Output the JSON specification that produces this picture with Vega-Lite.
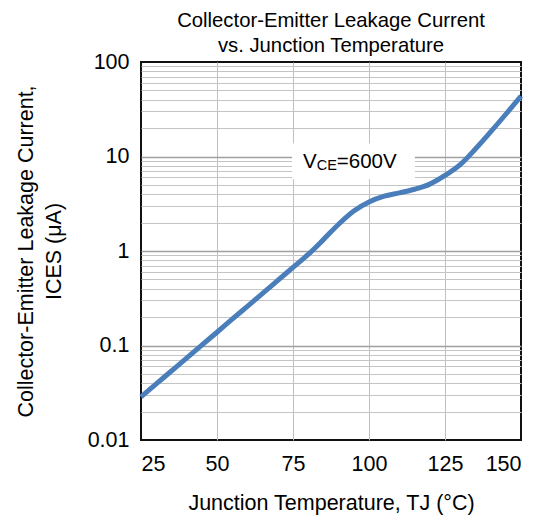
{
  "$schema": "https://vega.github.io/schema/vega-lite/v6.json",
  "width": 380,
  "height": 378,
  "autosize": {"type": "none"},
  "padding": {"left": 141, "top": 62, "right": 27, "bottom": 77},
  "background": "white",
  "config": {
    "font": "Liberation Sans",
    "view": {"stroke": "#111111", "strokeWidth": 2},
    "axis": {"labelFont": "Liberation Sans", "titleFont": "Liberation Sans", "labelColor": "black", "titleColor": "black", "labelFontSize": 21.5, "titleFontSize": 21.5, "titleFontWeight": "normal", "ticks": false, "domain": false}
  },
  "title": {
    "text": ["Collector-Emitter Leakage Current", "vs. Junction Temperature"],
    "fontSize": 20.3,
    "fontWeight": "normal",
    "font": "Liberation Sans",
    "color": "black",
    "lineHeight": 25,
    "anchor": "middle",
    "offset": -5
  },
  "datasets": {
    "curve": [
      {"T": 25, "I": 0.0286},
      {"T": 30, "I": 0.0392},
      {"T": 35, "I": 0.0537},
      {"T": 40, "I": 0.0736},
      {"T": 45, "I": 0.101},
      {"T": 50, "I": 0.138},
      {"T": 55, "I": 0.19},
      {"T": 60, "I": 0.26},
      {"T": 65, "I": 0.356},
      {"T": 70, "I": 0.489},
      {"T": 75, "I": 0.67},
      {"T": 80, "I": 0.92},
      {"T": 85, "I": 1.32},
      {"T": 90, "I": 1.92},
      {"T": 95, "I": 2.65},
      {"T": 100, "I": 3.3},
      {"T": 105, "I": 3.8},
      {"T": 110, "I": 4.12},
      {"T": 115, "I": 4.5},
      {"T": 120, "I": 5.1},
      {"T": 125, "I": 6.3},
      {"T": 130, "I": 8.2},
      {"T": 135, "I": 12},
      {"T": 140, "I": 18.2},
      {"T": 145, "I": 28},
      {"T": 150, "I": 43.6}
    ],
    "note": [
      {"T1": 74.7, "T2": 115.1, "I1": 5.73, "I2": 13.7, "T": 93.75, "I": 8.85}
    ]
  },
  "layer": [
    {
      "data": {"name": "curve"},
      "mark": {"type": "line", "color": "#4a7ebb", "strokeWidth": 5, "interpolate": "monotone"},
      "encoding": {
        "x": {
          "field": "T", "type": "quantitative",
          "scale": {"domain": [25, 150], "nice": false, "zero": false},
          "axis": {
            "values": [25, 50, 75, 100, 125, 150],
            "title": "Junction Temperature, TJ (°C)",
            "labelPadding": 13,
            "titlePadding": 18,
            "grid": true,
            "gridColor": "#c0c0c0",
            "gridWidth": 1,
            "gridOpacity": {"condition": {"test": "datum.value == 25 || datum.value == 150", "value": 0}, "value": 1}
          }
        },
        "y": {
          "field": "I", "type": "quantitative",
          "scale": {"type": "log", "domain": [0.01, 100], "nice": false},
          "axis": {
            "values": [0.01,0.02,0.03,0.04,0.05,0.06,0.07,0.08,0.09,0.1,0.2,0.3,0.4,0.5,0.6,0.7,0.8,0.9,1,2,3,4,5,6,7,8,9,10,20,30,40,50,60,70,80,90,100],
            "labelExpr": "(datum.value == 0.01 || datum.value == 0.1 || datum.value == 1 || datum.value == 10 || datum.value == 100) ? datum.label : ''",
            "format": "~g",
            "title": ["Collector-Emitter Leakage Current,", "ICES (μA)"],
            "labelPadding": 12,
            "titlePadding": 22,
            "titleLineHeight": 28,
            "grid": true,
            "gridColor": {"condition": {"test": "datum.value == 0.1 || datum.value == 1 || datum.value == 10", "value": "#a0a0a0"}, "value": "#c4c4c4"},
            "gridWidth": {"condition": {"test": "datum.value == 0.1 || datum.value == 1 || datum.value == 10", "value": 1.5}, "value": 1.2},
            "gridOpacity": {"condition": {"test": "datum.value == 0.01 || datum.value == 100", "value": 0}, "value": 1}
          }
        }
      }
    },
    {
      "data": {"name": "note"},
      "mark": {"type": "rect", "color": "white"},
      "encoding": {
        "x": {"field": "T1", "type": "quantitative"},
        "x2": {"field": "T2"},
        "y": {"field": "I1", "type": "quantitative"},
        "y2": {"field": "I2"}
      }
    },
    {
      "data": {"name": "note"},
      "mark": {"type": "text", "fontSize": 20.5, "align": "left", "baseline": "middle", "dx": -47, "color": "black"},
      "encoding": {
        "x": {"field": "T", "type": "quantitative"},
        "y": {"field": "I", "type": "quantitative"},
        "text": {"value": "V"}
      }
    },
    {
      "data": {"name": "note"},
      "mark": {"type": "text", "fontSize": 14.5, "align": "left", "baseline": "middle", "dx": -33.3, "dy": 4, "color": "black"},
      "encoding": {
        "x": {"field": "T", "type": "quantitative"},
        "y": {"field": "I", "type": "quantitative"},
        "text": {"value": "CE"}
      }
    },
    {
      "data": {"name": "note"},
      "mark": {"type": "text", "fontSize": 20.5, "align": "left", "baseline": "middle", "dx": -13.2, "color": "black"},
      "encoding": {
        "x": {"field": "T", "type": "quantitative"},
        "y": {"field": "I", "type": "quantitative"},
        "text": {"value": "=600V"}
      }
    }
  ]
}
